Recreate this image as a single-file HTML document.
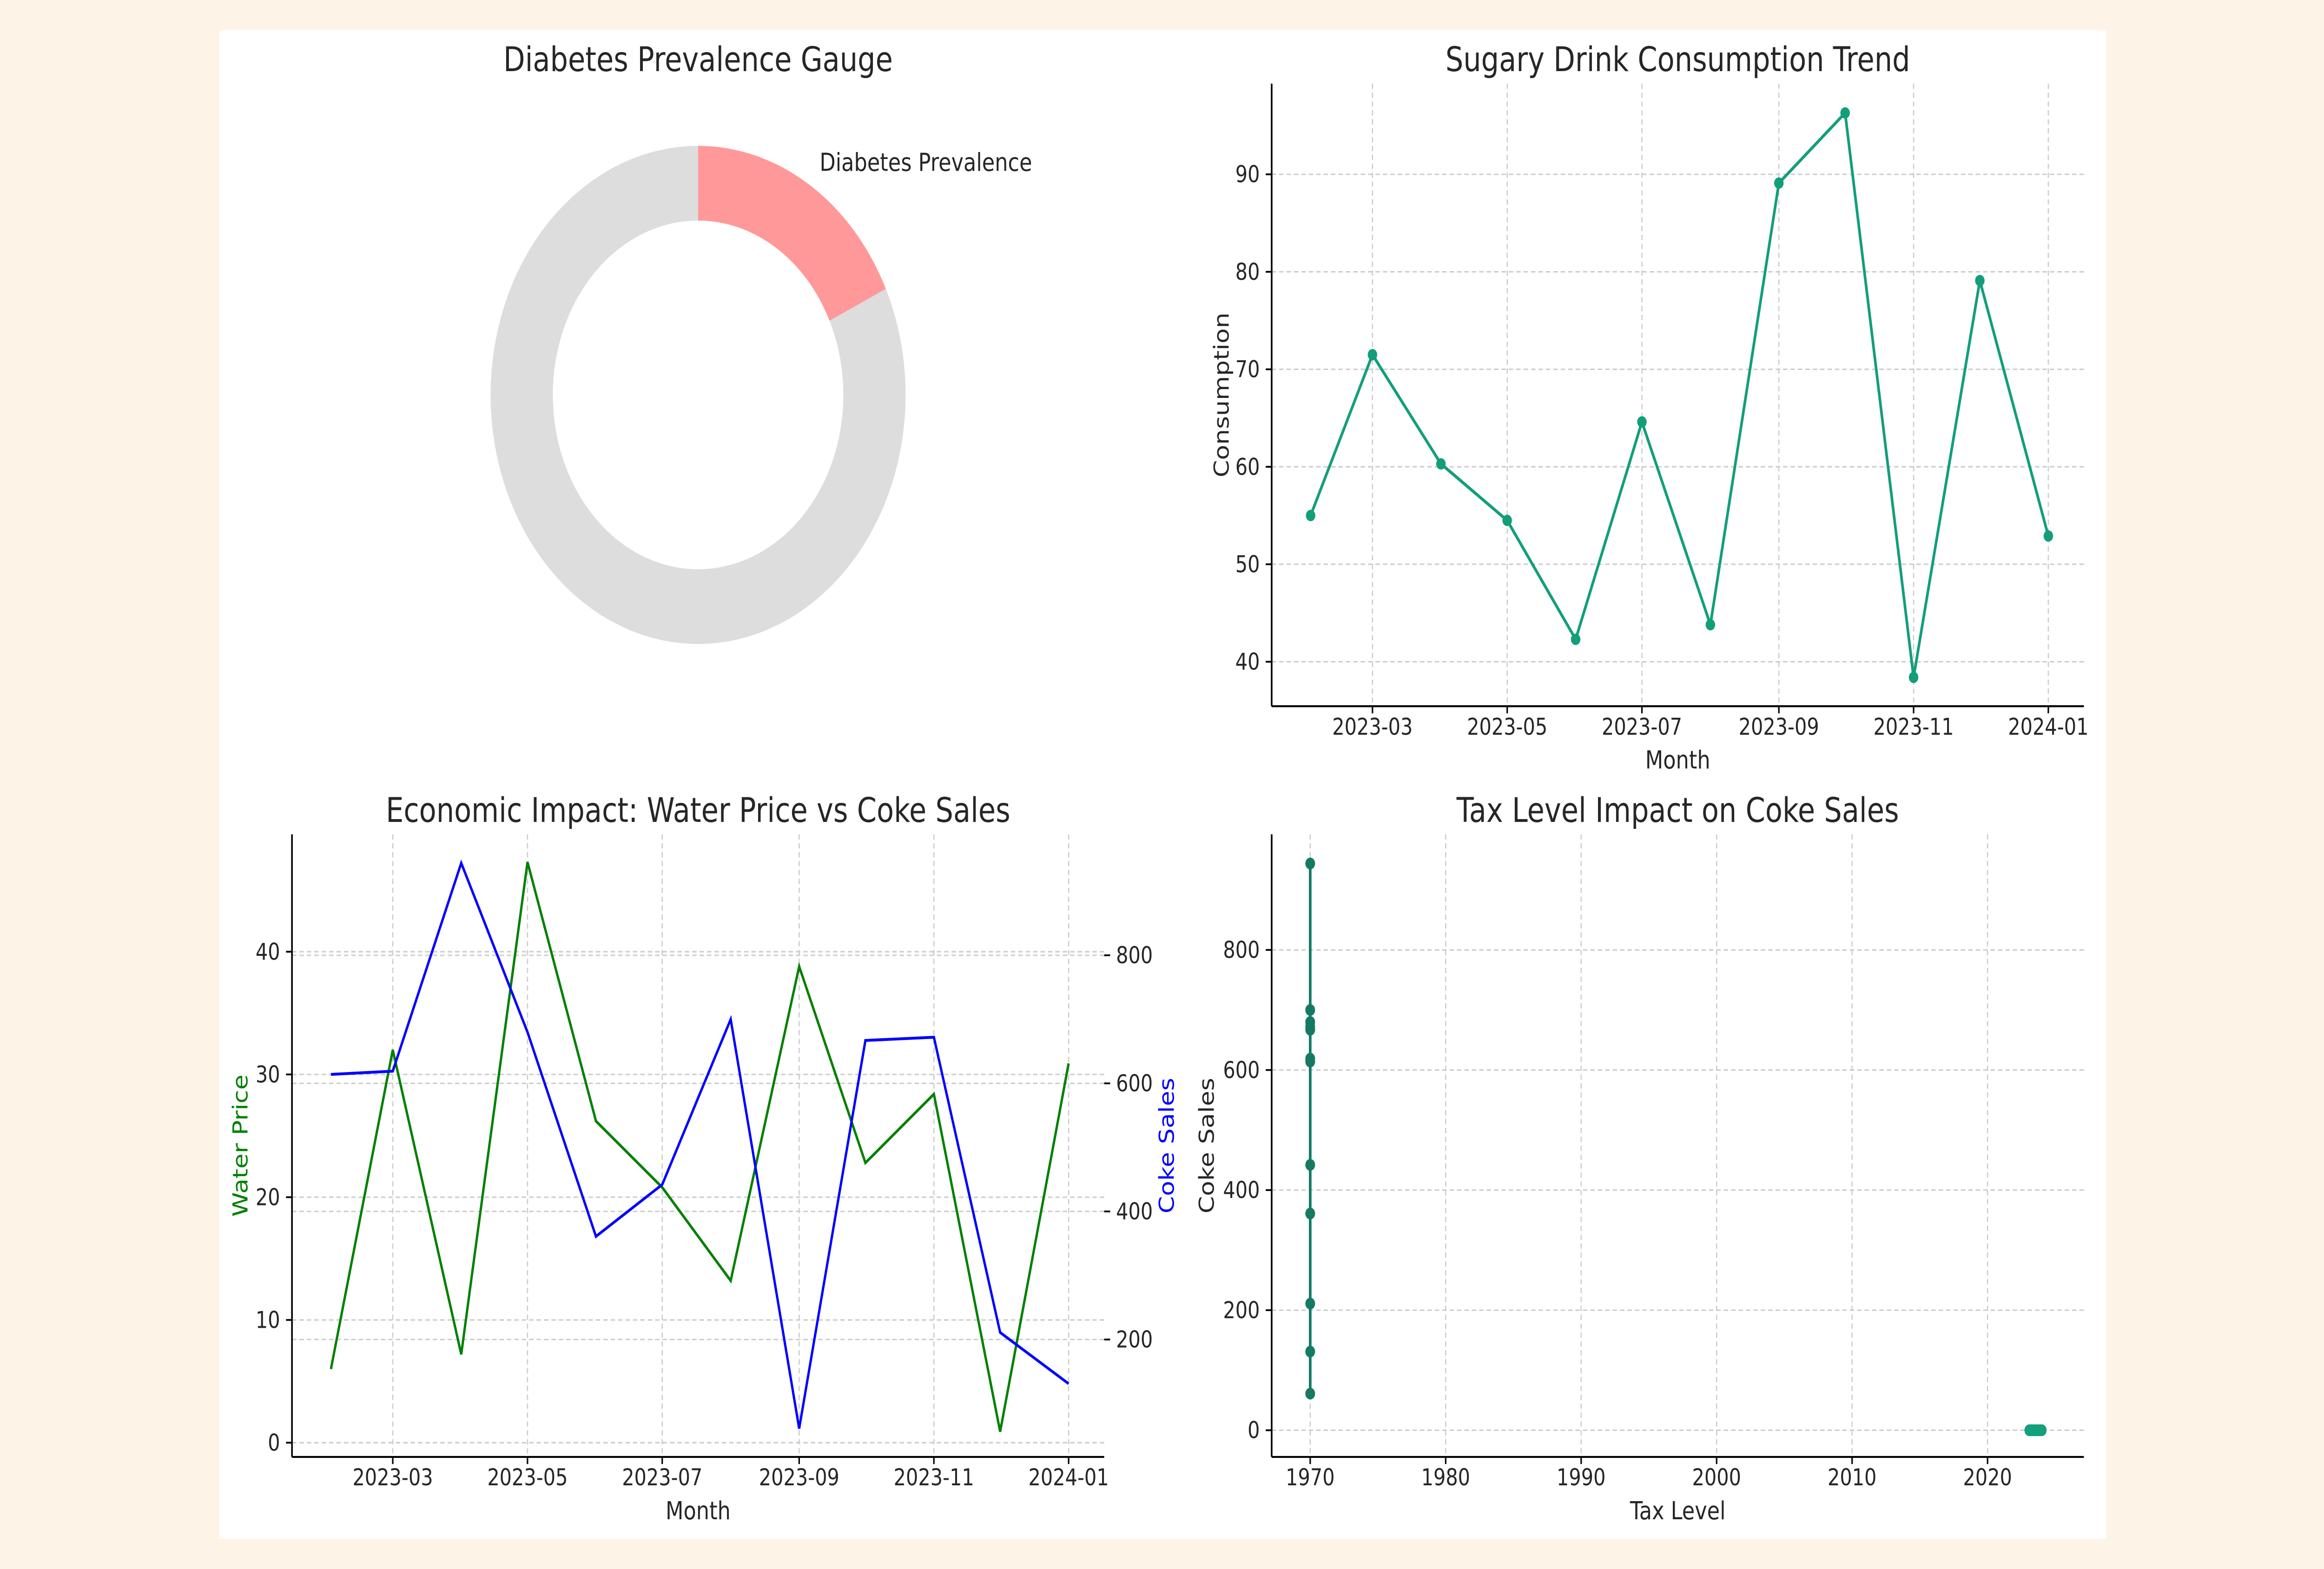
<!DOCTYPE html>
<html><head><meta charset="utf-8"><style>
html,body{margin:0;padding:0;background:#fdf3e7;width:100vw;height:100vh;overflow:hidden;}
svg{display:block;font-family:"DejaVu Sans","Liberation Sans",sans-serif;width:100vw;height:100vh;}
</style></head><body>
<svg viewBox="0 0 1568 882" preserveAspectRatio="none" xmlns="http://www.w3.org/2000/svg">
<g id="root">
<rect x="0" y="0" width="1568" height="882" fill="#fdf3e7"/>
<rect x="148" y="17" width="1273" height="848" fill="#ffffff"/>
</g>
</svg>
<script>
// ---- data ----
const months = ["2023-02-01","2023-03-01","2023-04-01","2023-05-01","2023-06-01","2023-07-01","2023-08-01","2023-09-01","2023-10-01","2023-11-01","2023-12-01","2024-01-01"];
const dateTicks = ["2023-03-01","2023-05-01","2023-07-01","2023-09-01","2023-11-01","2024-01-01"];
const dateTickLabels = ["2023-03","2023-05","2023-07","2023-09","2023-11","2024-01"];
const consumption = [55,71.5,60.3,54.5,42.3,64.6,43.8,89.1,96.3,38.4,79.1,52.9];
const consumptionTicks = [40,50,60,70,80,90];
const waterPrice = [6,32,7.2,47.3,26.2,20.8,13.2,38.8,22.8,28.4,0.9,30.9];
const waterTicks = [0,10,20,30,40];
const cokeSales = [614,619,944,680,361,442,700,61,667,672,211,131];
const cokeTicks = [200,400,600,800];
const scatterYTicks = [0,200,400,600,800];
const taxYearTicks = [1970,1980,1990,2000,2010,2020];
const taxLevelYear = 1970;
const diabetesPrevalence = 0.18;

const NS="http://www.w3.org/2000/svg";
const root=document.getElementById('root');
function mk(tag,attrs,parent){const e=document.createElementNS(NS,tag);for(const k in attrs)e.setAttribute(k,attrs[k]);(parent||root).appendChild(e);return e;}
function txt(s,x,y,size,fill,anchor,parent,rot){const t=mk('text',{x:x,y:y,'font-size':size,fill:fill||'#262626','text-anchor':anchor||'middle'},parent);if(rot)t.setAttribute('transform','rotate(-90 '+x+' '+y+')');t.textContent=s;return t;}
const day=s=>Date.parse(s)/86400000;
const GRID={stroke:'#cccccc','stroke-width':0.8,'stroke-dasharray':'3,2'};

// ---- gauge ----
const g1=mk('g',{});


const cx=471,cy=222,R=140,r=98;
function wedge(a0,a1,fill,name){
  const p=(a,rr)=>[cx+rr*Math.sin(a),cy-rr*Math.cos(a)];
  const large=(a1-a0)>Math.PI?1:0;
  const [x0,y0]=p(a0,R),[x1,y1]=p(a1,R),[x2,y2]=p(a1,r),[x3,y3]=p(a0,r);
  const e=mk('path',{d:`M${x0},${y0} A${R},${R} 0 ${large} 1 ${x1},${y1} L${x2},${y2} A${r},${r} 0 ${large} 0 ${x3},${y3} Z`,fill:fill},g1);
  
  
}
const aSplit=diabetesPrevalence*2*Math.PI;
wedge(aSplit,2*Math.PI-0.0001,'#dddddd','gauge-remainder');
wedge(0,aSplit,'#ff9999','gauge-prevalence-wedge');
const gt=txt('Diabetes Prevalence Gauge',471,40,19,'#262626','middle',g1);

const gl=txt('Diabetes Prevalence',553,96,14,'#262626','start',g1);


function axesFrame(g,L,Rt,T,B){
  mk('line',{x1:L,y1:T,x2:L,y2:B,stroke:'#000','stroke-width':1.1},g);
  mk('line',{x1:L,y1:B,x2:Rt,y2:B,stroke:'#000','stroke-width':1.1},g);
}
function dateScale(L){
  const d0=day("2023-03-01"),d1=day("2024-01-01");
  return s=>L+68+(day(s)-d0)*(456/(d1-d0));
}

// ---- line chart top-right ----
{
const g=mk('g',{});


const L=858,Rt=1406,T=47,B=397;
const X=dateScale(L);
const Y=v=>372-(v-40)*(274/50);
dateTicks.forEach((d,i)=>{const x=X(d);mk('line',Object.assign({x1:x,y1:T,x2:x,y2:B},GRID),g);mk('line',{x1:x,y1:B,x2:x,y2:B+4,stroke:'#000'},g);const t=txt(dateTickLabels[i],x,413,13,'#262626','middle',g);});
consumptionTicks.forEach(v=>{const y=Y(v);mk('line',Object.assign({x1:L,y1:y,x2:Rt,y2:y},GRID),g);mk('line',{x1:L-4,y1:y,x2:L,y2:y,stroke:'#000'},g);const t=txt(String(v),L-8,y+4.5,13,'#262626','end',g);});
axesFrame(g,L,Rt,T,B);
const pts=months.map((m,i)=>X(m)+','+Y(consumption[i])).join(' ');
const pl=mk('polyline',{points:pts,fill:'none',stroke:'#139e7a','stroke-width':1.8},g);

months.forEach((m,i)=>{const c=mk('circle',{cx:X(m),cy:Y(consumption[i]),r:3.2,fill:'#139e7a'},g);});
let t=txt('Sugary Drink Consumption Trend',1132,40,19,'#262626','middle',g);
t=txt('Month',1132,432,14,'#262626','middle',g);
t=txt('Consumption',829,222,14,'#262626','middle',g,true);
}

// ---- dual axis bottom-left ----
{
const g=mk('g',{});


const L=197,Rt=745,T=469,B=819;
const X=dateScale(L);
const Y=v=>811-v*6.9;
const Y2=v=>825-v*0.36;
dateTicks.forEach((d,i)=>{const x=X(d);mk('line',Object.assign({x1:x,y1:T,x2:x,y2:B},GRID),g);mk('line',{x1:x,y1:B,x2:x,y2:B+4,stroke:'#000'},g);const t=txt(dateTickLabels[i],x,835,13,'#262626','middle',g);});
waterTicks.forEach(v=>{const y=Y(v);mk('line',Object.assign({x1:L,y1:y,x2:Rt,y2:y},GRID),g);mk('line',{x1:L-4,y1:y,x2:L,y2:y,stroke:'#000'},g);const t=txt(String(v),L-8,y+4.5,13,'#262626','end',g);});
cokeTicks.forEach(v=>{const y=Y2(v);mk('line',Object.assign({x1:L,y1:y,x2:Rt,y2:y},GRID),g);mk('line',{x1:Rt,y1:y,x2:Rt+4,y2:y,stroke:'#000'},g);const t=txt(String(v),Rt+8,y+4.5,13,'#262626','start',g);});
axesFrame(g,L,Rt,T,B);
let pl=mk('polyline',{points:months.map((m,i)=>X(m)+','+Y(waterPrice[i])).join(' '),fill:'none',stroke:'#008000','stroke-width':1.6},g);

pl=mk('polyline',{points:months.map((m,i)=>X(m)+','+Y2(cokeSales[i])).join(' '),fill:'none',stroke:'#0000ff','stroke-width':1.6},g);

let t=txt('Economic Impact: Water Price vs Coke Sales',471,462,19,'#262626','middle',g);
t=txt('Month',471,854,14,'#262626','middle',g);
t=txt('Water Price',167,644,14,'#008000','middle',g,true);
t=txt('Coke Sales',792,644,14,'#0000ff','middle',g,true);
}

// ---- scatter bottom-right ----
{
const g=mk('g',{});


const L=858,Rt=1406,T=469,B=819;
const X=yr=>884+(yr-1970)*9.14;
const Xd=s=>X(1970+day(s)/365.25);
const Y=v=>804-v*0.3375;
taxYearTicks.forEach(v=>{const x=X(v);mk('line',Object.assign({x1:x,y1:T,x2:x,y2:B},GRID),g);mk('line',{x1:x,y1:B,x2:x,y2:B+4,stroke:'#000'},g);const t=txt(String(v),x,835,13,'#262626','middle',g);});
scatterYTicks.forEach(v=>{const y=Y(v);mk('line',Object.assign({x1:L,y1:y,x2:Rt,y2:y},GRID),g);mk('line',{x1:L-4,y1:y,x2:L,y2:y,stroke:'#000'},g);const t=txt(String(v),L-8,y+4.5,13,'#262626','end',g);});
axesFrame(g,L,Rt,T,B);
let pl=mk('polyline',{points:cokeSales.map(v=>X(taxLevelYear)+','+Y(v)).join(' '),fill:'none',stroke:'#167a62','stroke-width':1.8},g);

cokeSales.forEach(v=>{const c=mk('circle',{cx:X(taxLevelYear),cy:Y(v),r:3.3,fill:'#167a62'},g);});
months.forEach(m=>{const c=mk('circle',{cx:Xd(m),cy:Y(0),r:3.3,fill:'#13a07c'},g);});
let t=txt('Tax Level Impact on Coke Sales',1132,462,19,'#262626','middle',g);
t=txt('Tax Level',1132,854,14,'#262626','middle',g);
t=txt('Coke Sales',819,644,14,'#262626','middle',g,true);
}
</script>
</body></html>
